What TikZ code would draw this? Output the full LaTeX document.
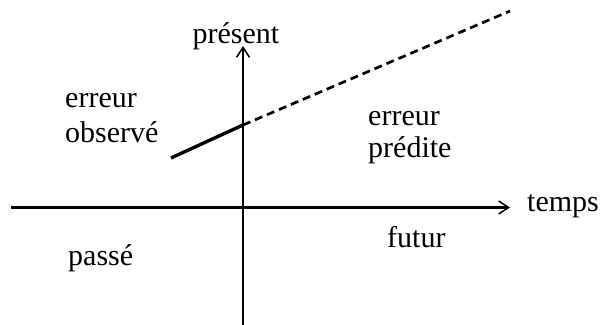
\documentclass[tikz,border=0pt]{standalone}
\usepackage{fontspec}
\setmainfont{Liberation Serif}
\usetikzlibrary{arrows.meta}
\begin{document}
\begin{tikzpicture}[x=1pt,y=-1pt,
  axis/.style={line width=2.2pt,-{Straight Barb[length=10pt,width=13pt,line width=1.5pt]}},
  lbl/.style={font=\fontsize{30}{34}\selectfont,inner sep=0pt,anchor=base west}]
\useasboundingbox (0,0) rectangle (605,324);
\coordinate (hs) at (11,207.5);
\coordinate (he) at (510,207.5);
\coordinate (vs) at (243,326);
\coordinate (ve) at (243,46);
\coordinate (os) at (171,158);
\coordinate (o) at (243,125);
\coordinate (pe) at (510,11);
\draw[axis] (hs) -- (he);
\draw[axis] (vs) -- (ve);
\draw[line width=3.4pt] (os) -- (o);
\draw[line width=2.7pt,dash pattern=on 8pt off 5pt] (o) -- (pe);
\node[lbl,anchor=base] (present) at (236,43) {présent};
\node[lbl] (err1) at (65,107) {erreur};
\node[lbl] (obs) at (65,142) {observé};
\node[lbl] (err2) at (368,125) {erreur};
\node[lbl] (pred) at (368,157) {prédite};
\node[lbl] (temps) at (527,211) {temps};
\node[lbl] (futur) at (387,247) {futur};
\node[lbl] (passe) at (68,265) {passé};
\end{tikzpicture}
\end{document}
